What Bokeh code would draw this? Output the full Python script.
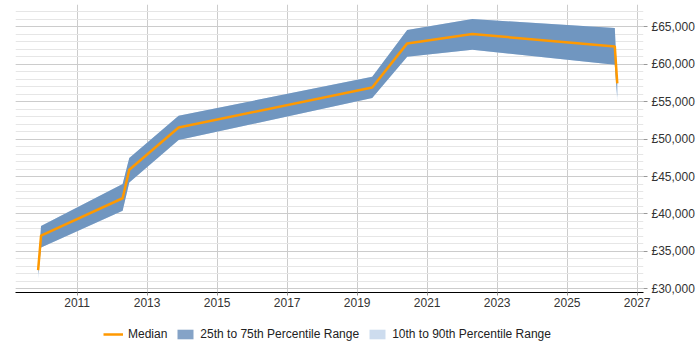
from bokeh.plotting import figure
from bokeh.layouts import column
from bokeh.models import (ColumnDataSource, FixedTicker, LinearAxis, Range1d,
                          Legend, LegendItem)
from bokeh.embed import file_html
from bokeh.resources import INLINE

# ---- data (decimal years, GBP) ----
years  = [2009.886, 2009.97, 2012.30, 2012.49, 2013.90, 2019.43, 2020.43, 2022.29, 2026.36, 2026.43]
median = [32500, 37100, 42100, 45900, 51550, 56900, 62800, 64050, 62400, 57450]
p25    = [31900, 35520, 40430, 44210, 49880, 55490, 61020, 61950, 59950, 55600]
p75    = [32900, 38400, 44000, 47470, 53130, 58340, 64590, 66060, 64850, 57700]
p10    = [31300, 35520, 40430, 44210, 49880, 55490, 61020, 61950, 59950, 55000]
p90    = [33000, 38400, 44000, 47470, 53130, 58340, 64590, 66060, 64850, 57800]

x_ticks = [2011, 2013, 2015, 2017, 2019, 2021, 2023, 2025, 2027]
y_ticks = [30000, 35000, 40000, 45000, 50000, 55000, 60000, 65000]
y_labels = ["£30,000", "£35,000", "£40,000", "£45,000", "£50,000", "£55,000", "£60,000", "£65,000"]

MED_COLOR, IQR_COLOR, P90_COLOR = "#ff9900", "#7096c0", "#cddcee"
FONT = "Liberation Sans"

src = ColumnDataSource(dict(x=years, med=median, p25=p25, p75=p75, p10=p10, p90=p90))

p = figure(frame_width=628, frame_height=288, output_backend="svg", toolbar_location=None,
           x_range=Range1d(2009.24, 2027.18), y_range=Range1d(29500, 68000),
           min_border_left=15, min_border_right=57, min_border_top=4, min_border_bottom=0)
p.outline_line_color = None
p.background_fill_color = "white"
p.border_fill_color = "white"

# axes
p.xaxis.ticker = FixedTicker(ticks=x_ticks)
p.xaxis.axis_line_color = "black"
p.xaxis.major_tick_line_color = "#999999"
p.xaxis.major_tick_out = 3
p.xaxis.major_tick_in = 0
p.xaxis.minor_tick_line_color = None
p.xaxis.major_label_text_font = FONT
p.xaxis.major_label_text_font_size = "12px"
p.xaxis.major_label_text_color = "#333333"
p.xaxis.major_label_standoff = 2

p.yaxis.visible = False
yax = LinearAxis(ticker=FixedTicker(ticks=y_ticks),
                 major_label_overrides={t: l for t, l in zip(y_ticks, y_labels)})
yax.axis_line_color = None
yax.major_tick_line_color = "#999999"
yax.major_tick_out = 4
yax.major_tick_in = 0
yax.minor_tick_line_color = None
yax.major_label_text_font = FONT
yax.major_label_text_font_size = "12px"
yax.major_label_text_color = "#333333"
yax.major_label_standoff = 4
p.add_layout(yax, "right")

# grids
p.xgrid.ticker = FixedTicker(ticks=x_ticks)
p.xgrid.grid_line_color = "#cccccc"
p.ygrid.ticker = FixedTicker(ticks=y_ticks, minor_ticks=list(range(29000, 69000, 1000)))
p.ygrid.grid_line_color = "#cccccc"
p.ygrid.minor_grid_line_color = "#e6e6e6"

# glyphs
p.varea(x="x", y1="p10", y2="p90", source=src, fill_color=P90_COLOR)
p.varea(x="x", y1="p25", y2="p75", source=src, fill_color=IQR_COLOR)
p.line(x="x", y="med", source=src, line_color=MED_COLOR, line_width=2.5)

# legend strip (separate small figure below the chart)
lg = figure(width=700, height=38, output_backend="svg", toolbar_location=None,
            x_range=Range1d(0, 1), y_range=Range1d(0, 1),
            x_axis_location=None, y_axis_location=None, min_border=0)
lg.grid.visible = False
lg.outline_line_color = None
offscreen = ColumnDataSource(dict(x=[-5, -4], y=[-5, -5], y2=[-4, -4]))
l_med = lg.line(x="x", y="y", source=offscreen, line_color=MED_COLOR, line_width=2.5)
l_iqr = lg.varea(x="x", y1="y", y2="y2", source=offscreen, fill_color="#85a3c7")
l_p90 = lg.varea(x="x", y1="y", y2="y2", source=offscreen, fill_color=P90_COLOR)
legend = Legend(items=[LegendItem(label="Median", renderers=[l_med]),
                       LegendItem(label="25th to 75th Percentile Range", renderers=[l_iqr]),
                       LegendItem(label="10th to 90th Percentile Range", renderers=[l_p90])],
                orientation="horizontal", location=(88, 6),
                border_line_color=None, background_fill_alpha=0,
                label_text_font=FONT, label_text_font_size="12px", label_text_color="#222222",
                glyph_width=20, glyph_height=12, label_standoff=5, spacing=8,
                padding=0, margin=0)
lg.add_layout(legend, "center")

layout = column(p, lg, spacing=0)
open("out.html", "w").write(file_html(layout, INLINE))
